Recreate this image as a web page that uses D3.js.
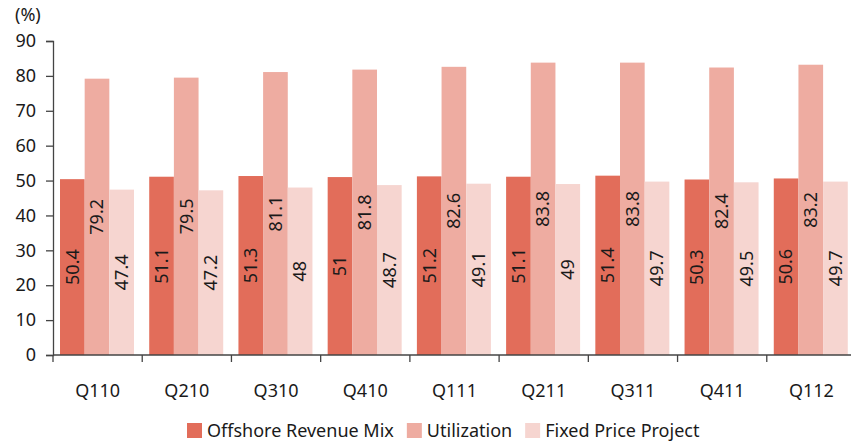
<!DOCTYPE html>
<html>
<head>
<meta charset="utf-8">
<script src="https://cdn.jsdelivr.net/npm/d3@7"></script>
<style>
html,body{margin:0;padding:0;background:#fff;}
svg{display:block;font-family:"Noto Sans",sans-serif;}
</style>
</head>
<body>
<svg id="chart" width="851" height="442"></svg>
<script>
const categories = ["Q110","Q210","Q310","Q410","Q111","Q211","Q311","Q411","Q112"];
const seriesNames = ["Offshore Revenue Mix","Utilization","Fixed Price Project"];
const offshore = [50.4, 51.1, 51.3, 51, 51.2, 51.1, 51.4, 50.3, 50.6];
const utilization = [79.2, 79.5, 81.1, 81.8, 82.6, 83.8, 83.8, 82.4, 83.2];
const fixedPrice = [47.4, 47.2, 48, 48.7, 49.1, 49, 49.7, 49.5, 49.7];
const yTicks = [0,10,20,30,40,50,60,70,80,90];
const colors = ["#e26d5a","#eeaca1","#f6d5d0"];

const seriesValues = [offshore, utilization, fixedPrice];
const svg = d3.select("#chart");

const x0 = d3.scaleBand().domain(categories).range([53, 856]).paddingInner(0).paddingOuter(0);
const x1 = d3.scaleBand().domain(seriesNames).range([7, 81]);
const y = d3.scaleLinear().domain([0, 90]).range([355, 41]);

// bars
const groups = svg.append("g").selectAll("g").data(categories).join("g")
  .attr("transform", d => `translate(${x0(d)},0)`);

groups.each(function(cat, ci) {
  const g = d3.select(this);
  seriesNames.forEach((s, si) => {
    const v = seriesValues[si][ci];
    g.append("rect")
      .attr("x", x1(s))
      .attr("y", y(v))
      .attr("width", x1.bandwidth())
      .attr("height", y(0) - y(v))
      .attr("fill", colors[si]);
  });
  seriesNames.forEach((s, si) => {
    const v = seriesValues[si][ci];
    const cx = x1(s) + x1.bandwidth() / 2;
    const cy = (y(v) + y(0)) / 2;
    g.append("text")
      .attr("transform", `translate(${cx},${cy}) rotate(-90)`)
      .attr("text-anchor", "middle")
      .attr("dy", "0.35em")
      .attr("font-size", 18)
      .attr("fill", "#1a1a1a")
      .text(String(v));
  });
});

// y axis
const yAxis = svg.append("g").attr("transform", "translate(53,0)")
  .call(d3.axisLeft(y).tickValues(yTicks).tickSize(7).tickPadding(10));
yAxis.select(".domain").attr("stroke", "#444").attr("stroke-width", 1.3);
yAxis.selectAll(".tick line").attr("stroke", "#444").attr("stroke-width", 1.3);
yAxis.selectAll("text").attr("font-size", 18).attr("fill", "#1a1a1a")
  .attr("font-family", "Noto Sans, sans-serif");

// x axis line and ticks at band boundaries
const xAxisG = svg.append("g");
xAxisG.append("line").attr("x1", 53).attr("x2", 856).attr("y1", y(0)).attr("y2", y(0))
  .attr("stroke", "#444").attr("stroke-width", 1.3);
const boundaries = categories.map(c => x0(c));
xAxisG.selectAll("line.tk").data(boundaries).join("line").attr("class", "tk")
  .attr("x1", d => d).attr("x2", d => d).attr("y1", y(0)).attr("y2", y(0) + 7)
  .attr("stroke", "#444").attr("stroke-width", 1.3);
xAxisG.selectAll("text").data(categories).join("text")
  .attr("x", d => x0(d) + x0.bandwidth() / 2)
  .attr("y", 397)
  .attr("text-anchor", "middle")
  .attr("font-size", 18)
  .attr("fill", "#1a1a1a")
  .text(d => d);

// unit label
svg.append("text").attr("x", 15).attr("y", 21).attr("font-size", 18)
  .attr("fill", "#1a1a1a").text("(%)");

// legend
const legend = svg.append("g");
let lx = 187;
seriesNames.forEach((s, i) => {
  legend.append("rect").attr("x", lx).attr("y", 423).attr("width", 15).attr("height", 15)
    .attr("fill", colors[i]);
  const t = legend.append("text").attr("x", lx + 20).attr("y", 437)
    .attr("font-size", 18).attr("fill", "#1a1a1a").text(s);
  lx += 20 + t.node().getComputedTextLength() + 13;
});
</script>
</body>
</html>
